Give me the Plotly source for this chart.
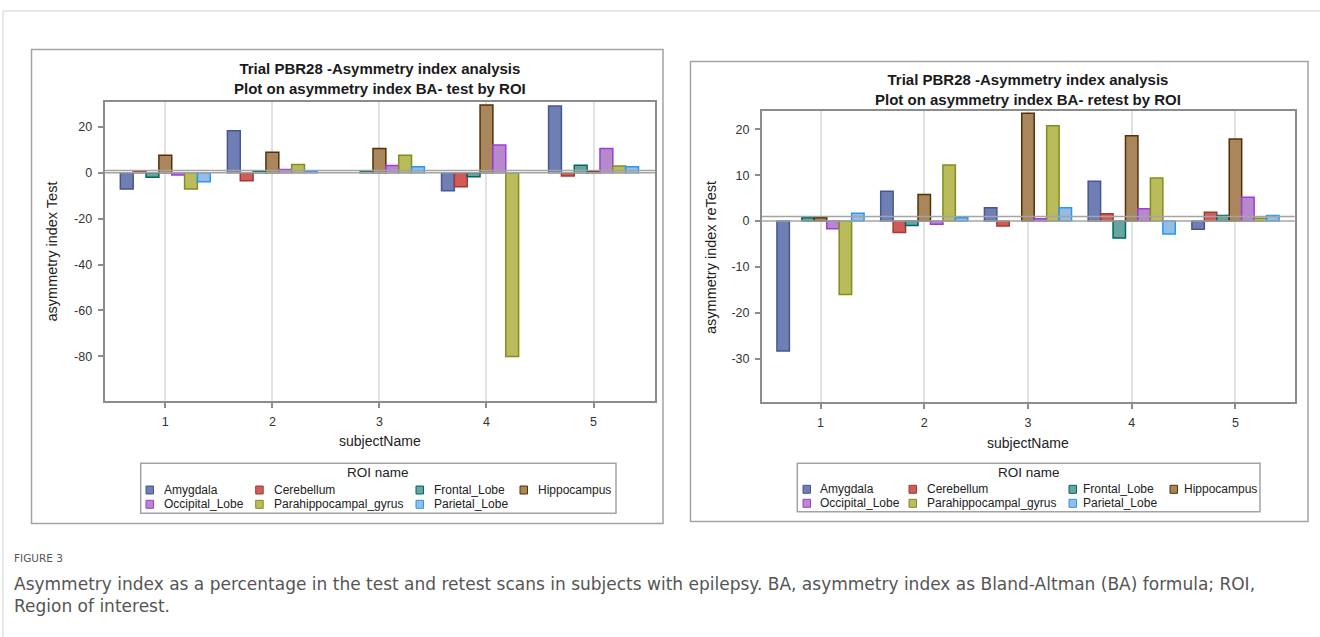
import plotly.graph_objects as go

# ---------------------------------------------------------------------------
# Data: asymmetry index (%) per subject for each region of interest
# ---------------------------------------------------------------------------
subjects = [1, 2, 3, 4, 5]
roi_names = ["Amygdala", "Cerebellum", "Frontal_Lobe", "Hippocampus",
             "Occipital_Lobe", "Parahippocampal_gyrus", "Parietal_Lobe"]

# test scan
test_amygdala = [-7.1, 18.3, None, -7.8, 29.1]
test_cerebellum = [0.7, -3.5, None, -6.1, -1.4]
test_frontal = [-2.0, 0.4, 0.5, -1.7, 3.3]
test_hippocampus = [7.6, 8.9, 10.6, 29.5, 0.5]
test_occipital = [-1.0, 1.4, 3.2, 12.1, 10.6]
test_parahippocampal = [-7.1, 3.6, 7.6, -80.0, 2.9]
test_parietal = [-3.9, 0.5, 2.6, None, 2.6]

# retest scan
retest_amygdala = [-28.3, 6.5, 2.9, 8.7, -1.8]
retest_cerebellum = [None, -2.5, -1.1, 1.6, 1.95]
retest_frontal = [0.7, -0.95, None, -3.7, 1.2]
retest_hippocampus = [0.7, 5.8, 23.5, 18.6, 17.9]
retest_occipital = [-1.7, -0.7, 0.5, 2.7, 5.2]
retest_parahippocampal = [-16.0, 12.2, 20.8, 9.4, 0.6]
retest_parietal = [1.7, 0.7, 2.9, -2.8, 1.2]

test_values = [test_amygdala, test_cerebellum, test_frontal, test_hippocampus,
               test_occipital, test_parahippocampal, test_parietal]
retest_values = [retest_amygdala, retest_cerebellum, retest_frontal, retest_hippocampus,
                 retest_occipital, retest_parahippocampal, retest_parietal]

test_ticks = [-80, -60, -40, -20, 0, 20]
test_ticktext = ["-80", "-60", "-40", "-20", "0", "20"]
retest_ticks = [-30, -20, -10, 0, 10, 20]
retest_ticktext = ["-30", "-20", "-10", "0", "10", "20"]
subject_ticktext = ["1", "2", "3", "4", "5"]

# ---------------------------------------------------------------------------
# Styling
# ---------------------------------------------------------------------------
fill_colors = ["#6F7EB3", "#D05B5B", "#66A5A0", "#A9865B", "#B689CD", "#BABC5C", "#94BDE1"]
line_colors = ["#445694", "#A23A2E", "#01665E", "#543005", "#9D3CDB", "#7F8E1F", "#2597FA"]

W, H = 1320, 637
FONT = "Liberation Sans, Arial, sans-serif"
CAPTION_FONT = "DejaVu Sans, Open Sans, sans-serif"


def px(x):
    return x / W


def py(y):
    return 1 - y / H


fig = go.Figure()

for i, name in enumerate(roi_names):
    for vals, xa, ya in ((test_values[i], "x", "y"), (retest_values[i], "x2", "y2")):
        fig.add_trace(go.Bar(
            x=subjects, y=vals, name=name, xaxis=xa, yaxis=ya,
            offsetgroup=str(i), showlegend=False,
            marker=dict(color=fill_colors[i], line=dict(color=line_colors[i], width=1.5)),
            hovertemplate=name + "<br>subject %{x}: %{y}<extra></extra>",
        ))

axis_common = dict(
    showline=True, mirror=True, linecolor="#8c8c8c", linewidth=2,
    ticks="outside", ticklen=5, tickwidth=1.5, tickcolor="#8c8c8c",
    tickfont=dict(family=FONT, size=12.5, color="#333333"),
    ticklabelstandoff=3,
)

fig.update_layout(
    width=W, height=H,
    margin=dict(l=0, r=0, t=0, b=0),
    paper_bgcolor="white", plot_bgcolor="white",
    barmode="group", bargap=0.16, bargroupgap=0.0,
    showlegend=False,
    xaxis=dict(domain=[px(104.6), px(655)], range=[0.433, 5.574],
               tickvals=subjects, ticktext=subject_ticktext,
               showgrid=True, gridcolor="#e2e2e2", gridwidth=1.5, zeroline=False,
               anchor="y", **axis_common),
    yaxis=dict(domain=[py(400.7), py(102.3)], range=[-99.3, 30.7],
               tickvals=test_ticks, ticktext=test_ticktext,
               showgrid=False, zeroline=False, anchor="x", **axis_common),
    xaxis2=dict(domain=[px(762), px(1294.7)], range=[0.436, 5.571],
                tickvals=subjects, ticktext=subject_ticktext,
                showgrid=True, gridcolor="#e2e2e2", gridwidth=1.5, zeroline=False,
                anchor="y2", **axis_common),
    yaxis2=dict(domain=[py(402.3), py(110.5)], range=[-39.5, 24.1],
                tickvals=retest_ticks, ticktext=retest_ticktext,
                showgrid=False, zeroline=False, anchor="x2", **axis_common),
)

shapes = []
annotations = []

# reference lines at 0 and 1 drawn over the bars
for xr, yr in (("x domain", "y"), ("x2 domain", "y2")):
    for level in (0, 1):
        shapes.append(dict(type="line", xref=xr, yref=yr, x0=0, x1=1, y0=level, y1=level,
                           line=dict(color="#a4a4a4", width=1.5), layer="above"))

# outer card border and panel frames
shapes.append(dict(type="line", xref="paper", yref="paper", x0=px(3), x1=1, y0=py(11), y1=py(11),
                   line=dict(color="#cfcfcf", width=1)))
shapes.append(dict(type="line", xref="paper", yref="paper", x0=px(3), x1=px(3), y0=py(11), y1=0,
                   line=dict(color="#cfcfcf", width=1)))
for x0, y0, x1, y1 in ((31.5, 49.5, 663, 523.5), (690.5, 61.5, 1308, 521.5)):
    shapes.append(dict(type="rect", xref="paper", yref="paper",
                       x0=px(x0), x1=px(x1), y0=py(y1), y1=py(y0),
                       line=dict(color="#a3a3a3", width=1.5), fillcolor="rgba(0,0,0,0)", layer="below"))

# panel titles and axis titles
panels = [
    dict(cx=379.8, ty=78.9, title="Trial PBR28 -Asymmetry index analysis<br>Plot on asymmetry index BA- test by ROI",
         ytitle="asymmetry index Test", ytx=52, yty=251.5, xty=441),
    dict(cx=1028.3, ty=89.0, title="Trial PBR28 -Asymmetry index analysis<br>Plot on asymmetry index BA- retest by ROI",
         ytitle="asymmetry index reTest", ytx=711, yty=258, xty=443),
]
for p in panels:
    annotations.append(dict(text="<b>" + p["title"].replace("<br>", "</b><br><b>") + "</b>",
                            x=px(p["cx"]), y=py(p["ty"]), xref="paper", yref="paper",
                            xanchor="center", yanchor="middle", showarrow=False,
                            font=dict(family=FONT, size=15, color="#1a1a1a")))
    annotations.append(dict(text=p["ytitle"], x=px(p["ytx"]), y=py(p["yty"]), xref="paper", yref="paper",
                            xanchor="center", yanchor="middle", showarrow=False, textangle=-90,
                            font=dict(family=FONT, size=14.5, color="#222222")))
    annotations.append(dict(text="subjectName", x=px(p["cx"]), y=py(p["xty"]), xref="paper", yref="paper",
                            xanchor="center", yanchor="middle", showarrow=False,
                            font=dict(family=FONT, size=14, color="#222222")))

# legends ("ROI name") drawn as boxes with swatches
legends = [
    dict(box=(140.7, 463.3, 616, 513.3), title_x=378, title_y=472.3, rows=(490, 504.3),
         swatch_x=(146, 255.7, 416, 520), text_x=(162.3, 271.7, 431.7, 536)),
    dict(box=(797.3, 463.3, 1260, 511.7), title_x=1029, title_y=472.3, rows=(489.3, 503.3),
         swatch_x=(803, 909, 1069, 1170), text_x=(818.3, 925, 1081, 1182.3)),
]
for lg in legends:
    bx0, by0, bx1, by1 = lg["box"]
    shapes.append(dict(type="rect", xref="paper", yref="paper",
                       x0=px(bx0), x1=px(bx1), y0=py(by1), y1=py(by0),
                       line=dict(color="#a3a3a3", width=1.5), fillcolor="white"))
    annotations.append(dict(text="ROI name", x=px(lg["title_x"]), y=py(lg["title_y"]),
                            xref="paper", yref="paper", xanchor="center", yanchor="middle",
                            showarrow=False, font=dict(family=FONT, size=13.5, color="#222222")))
    for i, name in enumerate(roi_names):
        row, col = divmod(i, 4)
        yc = lg["rows"][row]
        sx = lg["swatch_x"][col]
        shapes.append(dict(type="rect", xref="paper", yref="paper",
                           x0=px(sx), x1=px(sx + 7.5), y0=py(yc + 4), y1=py(yc - 4),
                           fillcolor=fill_colors[i], line=dict(color=line_colors[i], width=1)))
        annotations.append(dict(text=name, x=px(lg["text_x"][col]), y=py(yc),
                                xref="paper", yref="paper", xanchor="left", yanchor="middle",
                                showarrow=False, font=dict(family=FONT, size=12, color="#222222")))

# figure caption
annotations.append(dict(text="FIGURE 3", x=px(12), y=py(558), xref="paper", yref="paper",
                        xanchor="left", yanchor="middle", showarrow=False,
                        font=dict(family=CAPTION_FONT, size=10.5, color="#555555")))
caption_lines = [
    "Asymmetry index as a percentage in the test and retest scans in subjects with epilepsy. "
    "BA, asymmetry index as Bland-Altman (BA) formula; ROI,",
    "Region of interest.",
]
for line, yc in zip(caption_lines, (584, 605.5)):
    annotations.append(dict(text=line, x=px(12), y=py(yc), xref="paper", yref="paper",
                            xanchor="left", yanchor="middle", showarrow=False,
                            font=dict(family=CAPTION_FONT, size=17, color="#555555")))

fig.update_layout(shapes=shapes, annotations=annotations)

fig.write_html("out.html")
